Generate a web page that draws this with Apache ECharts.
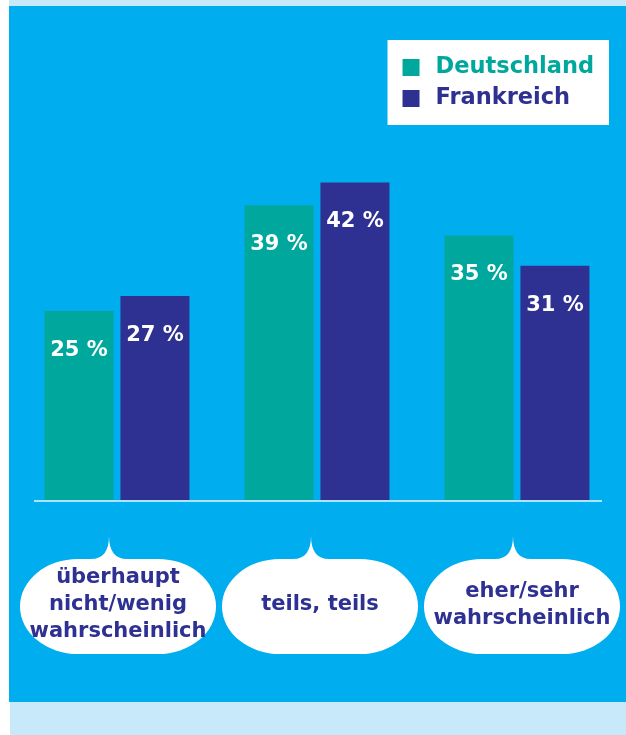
<!DOCTYPE html>
<html><head><meta charset="utf-8">
<script src="https://cdn.jsdelivr.net/npm/echarts@6/dist/echarts.min.js"></script>
<style>html,body{margin:0;padding:0;background:#fff}#c{width:626px;height:735px}</style>
</head><body><div id="c"></div>
<script>
const categories = ['überhaupt\nnicht/wenig\nwahrscheinlich', 'teils, teils', 'eher/sehr\nwahrscheinlich'];
const deutschland = [25, 39, 35];
const frankreich = [27, 42, 31];
const seriesNames = ['Deutschland', 'Frankreich'];

const TEAL = '#00a79d', NAVY = '#2e3192', PANEL = '#00aeef', LIGHT = '#c7e9f9';
const FONT = '"DejaVu Sans", sans-serif';

const chart = echarts.init(document.getElementById('c'), null, {renderer: 'canvas'});

const bubblePath = 'M -40 0 L -27 0 C -15 0 -9 -8 -9 -23 C -9 -8 -3 0 9 0 L 40 0 A 58 47.5 0 0 1 40 95 L -40 95 A 58 47.5 0 0 1 -40 0 Z';

const barLabel = {
  show: true, position: 'insideTop', distance: 29,
  color: '#fff', fontFamily: FONT, fontWeight: 'bold', fontSize: 21,
  formatter: p => p.value + ' %'
};

chart.setOption({
  backgroundColor: '#ffffff',
  animation: false,
  graphic: [
    {type: 'rect', z: -10, shape: {x: 9, y: 0, width: 617, height: 6}, style: {fill: LIGHT}, silent: true},
    {type: 'rect', z: -10, shape: {x: 9, y: 6, width: 617, height: 696}, style: {fill: PANEL}, silent: true},
    {type: 'rect', z: -10, shape: {x: 10, y: 702, width: 616, height: 33}, style: {fill: LIGHT}, silent: true},
    {type: 'line', z: 1, shape: {x1: 34, y1: 501, x2: 602, y2: 501}, style: {stroke: '#e6f6fd', lineWidth: 1.5}, silent: true}
  ],
  grid: {left: 17, right: 9, top: 122, bottom: 235},
  legend: {
    orient: 'vertical', right: 17, top: 40,
    backgroundColor: '#ffffff',
    padding: [16, 15, 15, 15],
    itemWidth: 17, itemHeight: 17, itemGap: 8,
    icon: 'rect',
    selectedMode: false,
    textStyle: {fontFamily: FONT, fontWeight: 'bold', fontSize: 22.5, padding: [0, 0, 0, 11]},
    data: [
      {name: seriesNames[0], textStyle: {color: TEAL}},
      {name: seriesNames[1], textStyle: {color: NAVY}}
    ]
  },
  xAxis: {
    type: 'category', data: categories,
    axisLine: {show: false}, axisTick: {show: false}, axisLabel: {show: false}
  },
  yAxis: {type: 'value', min: 0, max: 50, show: false, splitLine: {show: false}},
  series: [
    {name: seriesNames[0], type: 'bar', data: deutschland, barWidth: 69, barGap: '10%',
     itemStyle: {color: TEAL}, label: barLabel},
    {name: seriesNames[1], type: 'bar', data: frankreich, barWidth: 69, barGap: '10%',
     itemStyle: {color: NAVY}, label: barLabel},
    {name: 'labels', type: 'custom', clip: false, silent: true,
     data: categories.map((c, i) => [i, 0]),
     encode: {x: 0, y: 1},
     renderItem: function (params, api) {
       const p = api.coord([api.value(0), 0]);
       const cx = p[0] + 1 + 2 * params.dataIndex, top = p[1] + 59;
       return {
         type: 'group', x: cx, y: top,
         children: [
           {type: 'path', shape: {pathData: bubblePath}, style: {fill: '#ffffff'}},
           {type: 'text', x: 0, y: 46,
            style: {text: categories[params.dataIndex], fill: NAVY, font: 'bold 21px ' + FONT,
                    lineHeight: 27, align: 'center', verticalAlign: 'middle'}}
         ]
       };
     }}
  ]
});
</script></body></html>
